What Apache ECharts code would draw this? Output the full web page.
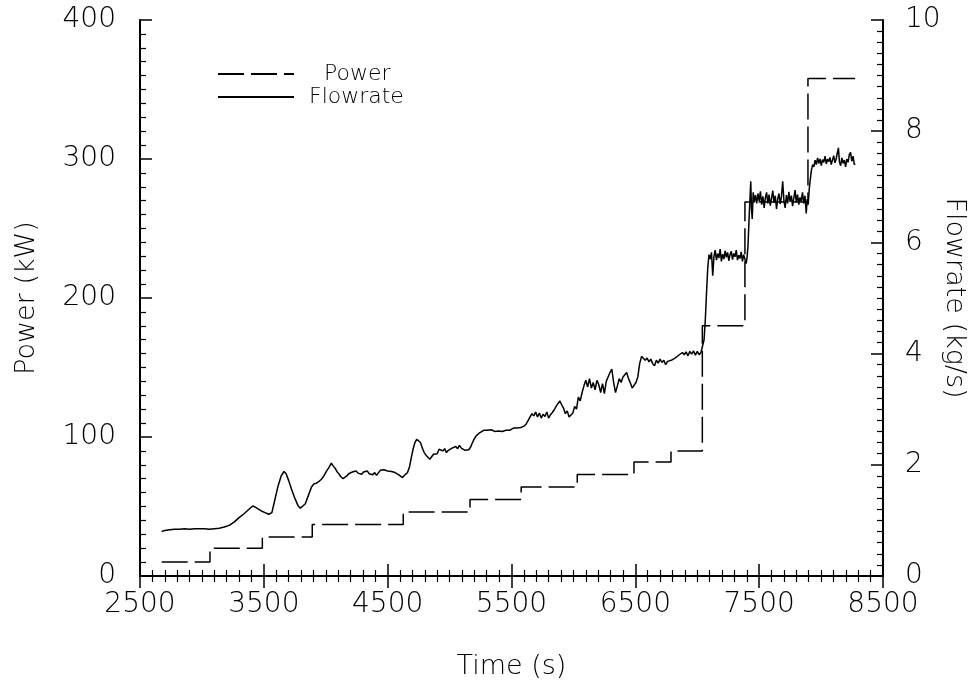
<!DOCTYPE html>
<html>
<head>
<meta charset="utf-8">
<script src="https://cdn.jsdelivr.net/npm/echarts@6/dist/echarts.min.js"></script>
<style>html,body{margin:0;padding:0;background:#fff}#c{width:974px;height:683px}</style>
</head>
<body>
<div id="c"></div>
<script>
// Power step levels (kW) and the times (s) at which each level starts
const powerTime = [2675, 3065, 3488, 3891, 4626, 5165, 5578, 6031, 6489, 6788, 7041, 7385, 7894, 8275];
const powerKW   = [10,   20,   28,   37,   46,   55,   64,   73,   82,   90,   180,  269,  358,  358];

// Flowrate (kg/s) sampled along time (s)
const flowTime = [2675,2700,2740,2780,2820,2860,2900,2940,2980,3020,3060,3100,3140,3180,3220,3260,3300,3340,3380,3410,3430,3450,3480,3510,3540,3565,3590,3615,3640,3663,3680,3700,3725,3750,3775,3795,3815,3835,3860,3885,3905,3925,3945,3965,3985,4005,4025,4045,4060,4075,4090,4105,4120,4140,4155,4170,4185,4200,4215,4230,4245,4260,4275,4290,4305,4320,4335,4350,4365,4380,4395,4410,4425,4440,4455,4470,4485,4500,4515,4530,4545,4560,4575,4590,4605,4620,4640,4660,4675,4690,4705,4720,4735,4750,4765,4780,4795,4810,4825,4840,4855,4870,4885,4900,4915,4930,4945,4960,4975,4990,5005,5020,5035,5050,5065,5080,5095,5110,5125,5140,5155,5170,5185,5200,5215,5230,5245,5260,5275,5290,5305,5320,5335,5350,5365,5380,5395,5410,5425,5440,5455,5470,5485,5500,5515,5530,5545,5560,5575,5590,5605,5620,5635,5650,5665,5680,5695,5710,5725,5740,5755,5770,5785,5800,5815,5830,5845,5860,5875,5890,5905,5920,5935,5950,5965,5980,5995,6010,6025,6040,6055,6070,6085,6100,6115,6130,6145,6160,6175,6190,6205,6220,6235,6250,6265,6280,6295,6310,6325,6340,6355,6370,6385,6400,6415,6430,6445,6460,6475,6490,6505,6520,6535,6550,6565,6580,6595,6610,6625,6640,6655,6670,6685,6700,6715,6730,6745,6760,6775,6790,6805,6820,6835,6850,6865,6880,6895,6910,6925,6940,6955,6970,6985,7000,7015,7030,7045,7055,7065,7075,7085,7095,7105,7115,7125,7135,7145,7155,7165,7175,7185,7195,7205,7215,7225,7235,7245,7255,7265,7275,7285,7295,7305,7315,7325,7335,7345,7355,7365,7375,7385,7395,7402,7410,7418,7425,7432,7438,7444,7452,7460,7470,7480,7490,7500,7510,7520,7530,7540,7550,7560,7570,7580,7590,7600,7610,7620,7630,7640,7650,7660,7670,7680,7690,7700,7710,7720,7730,7740,7750,7760,7770,7780,7790,7800,7810,7820,7830,7840,7850,7860,7870,7880,7888,7896,7904,7912,7922,7932,7942,7952,7962,7972,7982,7992,8002,8012,8022,8032,8042,8052,8062,8072,8082,8092,8102,8112,8122,8132,8140,8148,8158,8168,8178,8188,8198,8208,8218,8228,8238,8248,8258,8268,8275];
const flowrate = [0.80,0.82,0.83,0.84,0.84,0.85,0.84,0.85,0.85,0.85,0.84,0.85,0.86,0.88,0.91,0.97,1.05,1.12,1.20,1.26,1.24,1.21,1.17,1.14,1.11,1.14,1.38,1.62,1.80,1.88,1.84,1.72,1.55,1.40,1.27,1.22,1.26,1.30,1.45,1.60,1.66,1.67,1.70,1.74,1.80,1.88,1.95,2.03,1.98,1.94,1.88,1.84,1.79,1.75,1.72,1.80,1.84,1.82,1.87,1.84,1.89,1.85,1.88,1.83,1.87,1.85,1.89,1.84,1.86,1.82,1.86,1.81,1.84,1.90,1.93,1.91,1.94,1.89,1.92,1.88,1.91,1.86,1.88,1.82,1.79,1.77,1.82,1.86,1.95,2.12,2.28,2.40,2.46,2.44,2.40,2.30,2.22,2.17,2.14,2.10,2.11,2.19,2.22,2.20,2.28,2.31,2.25,2.29,2.22,2.26,2.24,2.30,2.27,2.33,2.29,2.35,2.30,2.28,2.26,2.29,2.27,2.32,2.40,2.47,2.52,2.55,2.58,2.60,2.62,2.59,2.62,2.60,2.63,2.61,2.60,2.63,2.61,2.64,2.60,2.63,2.62,2.65,2.62,2.63,2.66,2.64,2.66,2.68,2.67,2.66,2.70,2.74,2.80,2.86,2.92,2.88,2.95,2.86,2.93,2.84,2.91,2.87,2.95,2.84,2.90,2.94,2.99,3.05,3.10,3.15,3.08,3.02,2.92,2.97,2.86,2.84,2.93,3.05,3.00,3.22,3.15,3.30,3.42,3.52,3.40,3.55,3.38,3.48,3.35,3.52,3.44,3.30,3.46,3.28,3.50,3.58,3.66,3.72,3.48,3.30,3.42,3.55,3.48,3.58,3.62,3.66,3.55,3.47,3.38,3.40,3.48,3.58,3.82,3.95,3.97,3.88,3.92,3.85,3.90,3.82,3.78,3.88,3.83,3.90,3.84,3.88,3.80,3.86,3.83,3.88,3.86,3.92,3.90,3.97,3.94,4.02,3.98,4.03,3.96,4.04,3.99,4.05,3.97,4.04,3.98,4.02,4.05,4.25,4.60,5.10,5.55,5.78,5.70,5.82,5.40,5.75,5.86,5.68,5.80,5.72,5.88,5.66,5.79,5.70,5.85,5.73,5.82,5.67,5.78,5.84,5.69,5.80,5.74,5.86,5.68,5.77,5.71,5.83,5.66,5.78,5.70,5.62,5.72,5.95,6.40,6.75,7.10,6.60,6.42,6.90,6.72,6.85,6.70,6.88,6.74,6.92,6.68,6.83,6.62,6.80,6.90,6.70,6.86,6.66,6.79,6.93,6.71,6.84,6.60,6.78,6.88,6.69,6.82,7.10,6.75,6.62,6.85,6.70,6.91,6.73,6.84,6.65,6.80,6.94,6.72,6.86,6.68,6.81,6.74,6.90,6.70,6.84,6.52,6.78,6.68,6.95,7.12,7.30,7.40,7.36,7.48,7.40,7.52,7.42,7.50,7.38,7.49,7.44,7.55,7.41,7.50,7.45,7.53,7.40,7.48,7.56,7.43,7.50,7.62,7.70,7.45,7.38,7.52,7.42,7.48,7.36,7.50,7.44,7.58,7.62,7.46,7.55,7.40,7.42];

const FONT = '"DejaVu Sans", "Liberation Sans", sans-serif';
const chart = echarts.init(document.getElementById('c'), null, {renderer: 'canvas'});

const powerData = powerTime.map((t, i) => [t, powerKW[i]]);
const flowData = flowTime.map((t, i) => [t, flowrate[i]]);

const plain = v => String(v);
const lbl = {color: '#000', fontFamily: FONT, fontSize: 28, fontWeight: 200, formatter: plain};
const nameStyle = {color: '#000', fontFamily: FONT, fontSize: 27, fontWeight: 200};
const axLine = {show: true, lineStyle: {color: '#000', width: 2}};
const tick = {inside: true, length: 12, lineStyle: {color: '#000', width: 1.5}};
const minor = {show: true, splitNumber: 10, length: 6, lineStyle: {color: '#000', width: 1.2}};
const legendText = pad => ({color: '#000', fontFamily: FONT, fontSize: 22, fontWeight: 200, padding: [0, 0, 0, pad]});

chart.setOption({
  animation: false,
  backgroundColor: '#fff',
  grid: {left: 140, right: 91, top: 20, bottom: 107, show: false, containLabel: false, outerBoundsMode: 'none'},
  legend: [
    {data: ['Power'], left: 212, top: 58, itemWidth: 76, itemHeight: 14,
     itemStyle: {opacity: 0}, textStyle: legendText(25)},
    {data: ['Flowrate'], left: 212, top: 81, itemWidth: 76, itemHeight: 14,
     itemStyle: {opacity: 0}, textStyle: legendText(10)}
  ],
  xAxis: [
    {type: 'value', position: 'bottom', min: 2500, max: 8500, interval: 1000,
     name: 'Time (s)', nameLocation: 'middle', nameGap: 77, nameTextStyle: nameStyle,
     axisLine: axLine, axisTick: tick, minorTick: minor,
     axisLabel: Object.assign({margin: 15}, lbl), splitLine: {show: false}},
    {type: 'value', position: 'top', min: 2500, max: 8500, interval: 1000,
     axisLine: axLine, axisTick: tick, minorTick: minor,
     axisLabel: {show: false}, splitLine: {show: false}}
  ],
  yAxis: [
    {type: 'value', position: 'left', min: 0, max: 400, interval: 100,
     name: 'Power (kW)', nameLocation: 'middle', nameGap: 100, nameRotate: 90, nameTextStyle: nameStyle,
     axisLine: axLine, axisTick: tick, minorTick: minor,
     axisLabel: Object.assign({margin: 24}, lbl), splitLine: {show: false}},
    {type: 'value', position: 'right', min: 0, max: 10, interval: 2,
     name: 'Flowrate (kg/s)', nameLocation: 'middle', nameGap: 58, nameRotate: -90, nameMoveOverlap: false,
     nameTextStyle: nameStyle,
     axisLine: axLine, axisTick: tick, minorTick: minor,
     axisLabel: Object.assign({margin: 22}, lbl), splitLine: {show: false}}
  ],
  series: [
    {name: 'Power', type: 'line', xAxisIndex: 0, yAxisIndex: 0, step: 'end', data: powerData,
     symbol: 'none', lineStyle: {color: '#000', width: 1.5, type: [26, 7]}, itemStyle: {color: '#000'}},
    {name: 'Flowrate', type: 'line', xAxisIndex: 0, yAxisIndex: 1, data: flowData,
     symbol: 'none', lineStyle: {color: '#000', width: 1.5}, itemStyle: {color: '#000'}}
  ]
});
</script>
</body>
</html>
